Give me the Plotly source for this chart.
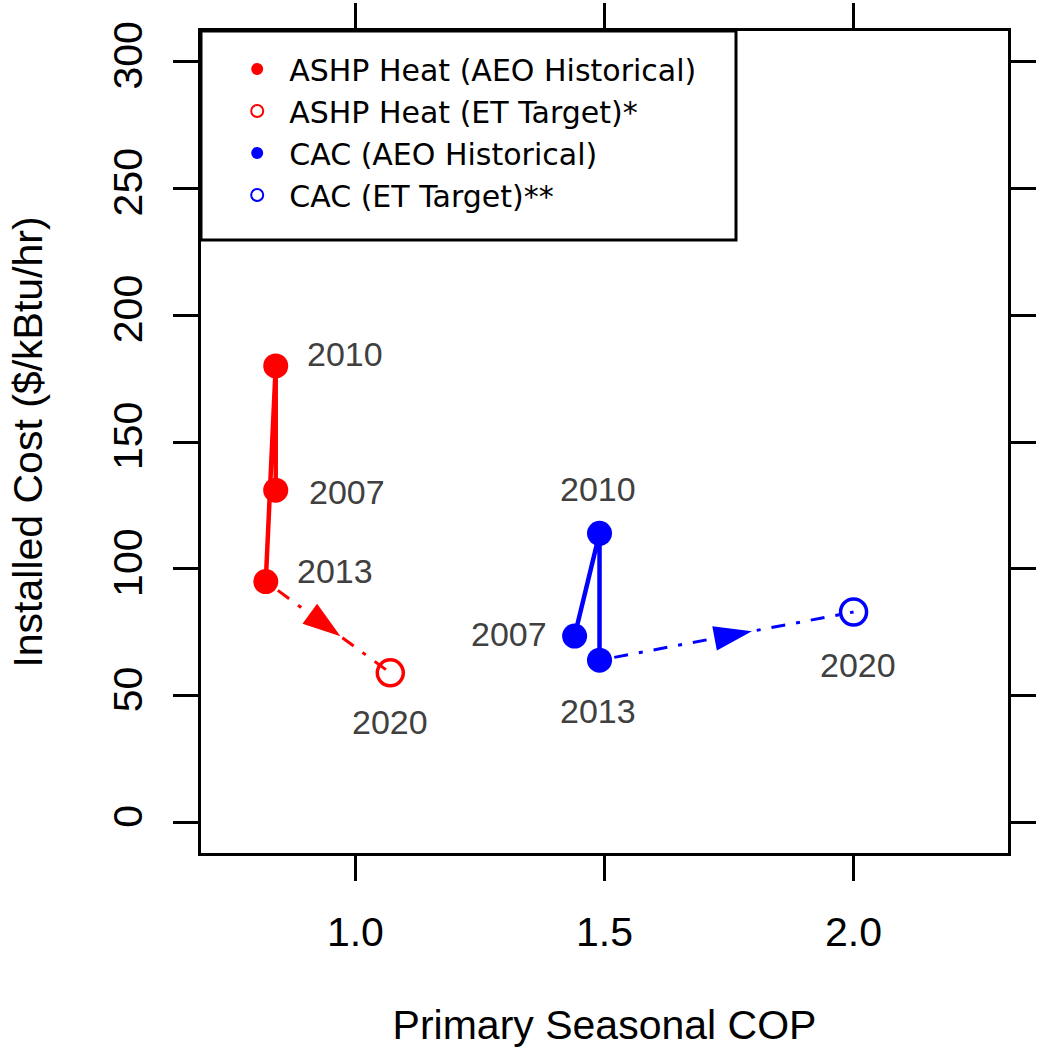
import plotly.graph_objects as go

# ---------------- data ----------------
hist_years = [2007, 2010, 2013]
target_year = 2020

ashp_cop_hist = [0.84, 0.84, 0.82]
ashp_cost_hist = [131, 180, 95]
ashp_cop_target = [1.07]
ashp_cost_target = [59]

cac_cop_hist = [1.44, 1.49, 1.49]
cac_cost_hist = [73.5, 114, 64]
cac_cop_target = [2.0]
cac_cost_target = [83]

x_ticks = [1.0, 1.5, 2.0]
x_tick_labels = ["1.0", "1.5", "2.0"]
y_ticks = [0, 50, 100, 150, 200, 250, 300]
y_tick_labels = ["0", "50", "100", "150", "200", "250", "300"]

series_names = ["ASHP Heat (AEO Historical)", "ASHP Heat (ET Target)*",
                "CAC (AEO Historical)", "CAC (ET Target)**"]

# ---------------- styles ----------------
RED = "#ff0000"
BLUE = "#0000ff"
FONT = "Liberation Sans, Arial, Helvetica, sans-serif"
LEGEND_FONT = "DejaVu Sans, Liberation Sans, sans-serif"
LABEL_COLOR = "#404040"
DASH = "4px,11px,14px,11px"
ARROW_FRAC = 0.6

# pixel offsets of the year labels (order: 2007, 2010, 2013, 2020)
ashp_label_shift = [(71, -2), (69, 12), (69, 11), (0, -49)]
cac_label_shift = [(-66, 2), (-2, 44), (-2, -51), (4, -53)]

fig = go.Figure()


def add_series(cop_h, cost_h, cop_t, cost_t, color, name_h, name_t):
    # historical path
    fig.add_trace(go.Scatter(x=cop_h, y=cost_h, mode="lines",
                             line=dict(color=color, width=4.5),
                             showlegend=False, hoverinfo="skip"))
    # dash-dot path to target
    fig.add_trace(go.Scatter(x=[cop_h[-1], cop_t[0]], y=[cost_h[-1], cost_t[0]],
                             mode="lines",
                             line=dict(color=color, width=3, dash=DASH),
                             showlegend=False, hoverinfo="skip"))
    # arrow head along that path
    ax = cop_h[-1] + ARROW_FRAC * (cop_t[0] - cop_h[-1])
    ay = cost_h[-1] + ARROW_FRAC * (cost_t[0] - cost_h[-1])
    fig.add_trace(go.Scatter(x=[cop_h[-1], ax], y=[cost_h[-1], ay], mode="markers",
                             marker=dict(symbol=["circle", "arrow"], size=[0, 40],
                                         color=color, angleref="previous",
                                         opacity=[0, 1], line=dict(width=0)),
                             showlegend=False, hoverinfo="skip"))
    # historical points
    fig.add_trace(go.Scatter(x=cop_h, y=cost_h, mode="markers", name=name_h,
                             marker=dict(symbol="circle", size=25, color=color,
                                         line=dict(width=0))))
    # target point
    fig.add_trace(go.Scatter(x=cop_t, y=cost_t, mode="markers", name=name_t,
                             marker=dict(symbol="circle-open", size=26, color=color,
                                         line=dict(width=3.5, color=color))))


add_series(ashp_cop_hist, ashp_cost_hist, ashp_cop_target, ashp_cost_target,
           RED, series_names[0], series_names[1])
add_series(cac_cop_hist, cac_cost_hist, cac_cop_target, cac_cost_target,
           BLUE, series_names[2], series_names[3])

annotations = []
for cop_h, cost_h, cop_t, cost_t, shifts in [
        (ashp_cop_hist, ashp_cost_hist, ashp_cop_target, ashp_cost_target, ashp_label_shift),
        (cac_cop_hist, cac_cost_hist, cac_cop_target, cac_cost_target, cac_label_shift)]:
    xs = cop_h + cop_t
    ys = cost_h + cost_t
    yrs = hist_years + [target_year]
    for x, y, yr, (dx, dy) in zip(xs, ys, yrs, shifts):
        annotations.append(dict(x=x, y=y, xref="x", yref="y", text=str(yr),
                                showarrow=False, xshift=dx, yshift=dy,
                                xanchor="center", yanchor="middle",
                                font=dict(family=FONT, size=34, color=LABEL_COLOR)))

fig.update_layout(
    width=1037, height=1053, autosize=False,
    margin=dict(l=201, r=29, t=31, b=200, pad=0, autoexpand=False),
    paper_bgcolor="white", plot_bgcolor="white",
    font=dict(family=FONT, color="black"),
    annotations=annotations,
    showlegend=True,
    legend=dict(x=0.03, y=0.9854, xanchor="left", yanchor="top",
                bgcolor="rgba(0,0,0,0)", borderwidth=0,
                font=dict(family=LEGEND_FONT, size=30, color="black"),
                itemsizing="constant", itemwidth=54, tracegroupgap=0),
    shapes=[dict(type="rect", xref="paper", yref="paper",
                 x0=0, x1=(736 - 201) / 807, y0=(853 - 240) / 822, y1=1,
                 line=dict(color="black", width=3), fillcolor="rgba(0,0,0,0)",
                 layer="above")],
    xaxis=dict(range=[0.69, 2.31], tickmode="array", tickvals=x_ticks,
               ticktext=x_tick_labels, ticks="outside", ticklen=25, tickwidth=3,
               tickcolor="black", showline=True, linecolor="black", linewidth=3,
               mirror="ticks", showgrid=False, zeroline=False, automargin=False,
               tickfont=dict(family=FONT, size=41, color="black"),
               ticklabelstandoff=16,
               title=dict(text="Primary Seasonal COP", standoff=57,
                          font=dict(family=FONT, size=41, color="black"))),
    yaxis=dict(range=[-12, 312], tickmode="array", tickvals=y_ticks,
               ticktext=y_tick_labels, ticks="outside", ticklen=25, tickwidth=3,
               tickcolor="black", showline=True, linecolor="black", linewidth=3,
               mirror="ticks", showgrid=False, zeroline=False, tickangle=-90,
               automargin=False,
               tickfont=dict(family=FONT, size=41, color="black"),
               ticklabelstandoff=15,
               title=dict(text="Installed Cost ($/kBtu/hr)", standoff=50,
                          font=dict(family=FONT, size=41, color="black"))),
)

fig.write_html("out.html", config={"displayModeBar": False},
               post_script="document.body.style.margin='0px';")
